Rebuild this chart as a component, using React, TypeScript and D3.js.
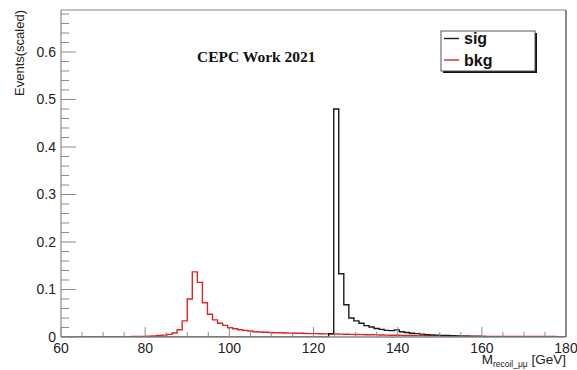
import React from "react";
import * as d3 from "d3";

const binLow = 60;
const binWidth = 1.2;
const xTicks = [60, 80, 100, 120, 140, 160, 180];
const yTicks = [0, 0.1, 0.2, 0.3, 0.4, 0.5, 0.6];

const bkgValues = [
  0, 0, 0, 0.0006, 0.0006, 0.0005, 0.0005, 0.0005, 0.0006, 0.0006,
  0.0006, 0.0007, 0.0007, 0.0008, 0.0009, 0.001, 0.0012, 0.0015, 0.002, 0.003,
  0.004, 0.0055, 0.0084, 0.0154, 0.034, 0.08, 0.137, 0.115, 0.072, 0.048,
  0.036, 0.029, 0.0245, 0.0196, 0.0175, 0.0154, 0.014, 0.0126, 0.011, 0.0105,
  0.01, 0.0095, 0.009, 0.0088, 0.0085, 0.0082, 0.008, 0.0078, 0.0075, 0.0072,
  0.007, 0.0068, 0.0066, 0.0064, 0.0062, 0.006, 0.0058, 0.0055, 0.0052, 0.005,
  0.0048, 0.0046, 0.0044, 0.0042, 0.004, 0.0038, 0.0036, 0.0034, 0.0032, 0.003,
  0.0029, 0.0028, 0.0026, 0.0025, 0.0024, 0.0022, 0.0021, 0.002, 0.0019, 0.0018,
  0.0017, 0.0016, 0.0016, 0.0015, 0.0014, 0.0014, 0.0013, 0.0013, 0.0012, 0.0012,
  0.0011, 0.0011, 0.001, 0.001, 0.001, 0.0009, 0.0009, 0.0009, 0.0008, 0.0008,
];

const sigValues = [
  0, 0, 0, 0, 0, 0, 0, 0, 0, 0,
  0, 0, 0, 0, 0, 0, 0, 0, 0, 0,
  0, 0, 0, 0, 0, 0, 0, 0, 0, 0,
  0, 0, 0, 0, 0, 0, 0, 0, 0, 0,
  0, 0, 0, 0, 0, 0, 0, 0, 0, 0,
  0, 0, 0, 0.007, 0.48, 0.133, 0.068, 0.04, 0.034, 0.029,
  0.024, 0.021, 0.018, 0.016, 0.014, 0.0135, 0.015, 0.011, 0.0095, 0.008,
  0.007, 0.006, 0.005, 0.0045, 0.004, 0.0035, 0.003, 0.0025, 0.002, 0.0018,
  0.0015, 0.0012, 0.001, 0.0008, 0.0006, 0.0005, 0.0004, 0.0003, 0.0003, 0.0002,
  0.0002, 0.0001, 0.0001, 0.0001, 0, 0, 0, 0, 0, 0,
];

const W = 577;
const H = 370;
const L = 61;
const R = 566;
const T = 10;
const B = 337;

export default function App() {
  const x = d3.scaleLinear().domain([60, 180]).range([L, R]);
  const y = d3.scaleLinear().domain([0, 0.6884]).range([B, T]);

  const histPath = (vals: number[]) => {
    const p = d3.path();
    p.moveTo(x(binLow), y(0));
    vals.forEach((v, i) => {
      const lo = binLow + i * binWidth;
      const hi = lo + binWidth;
      p.lineTo(x(lo), y(v));
      p.lineTo(x(hi), y(v));
    });
    p.lineTo(x(binLow + vals.length * binWidth), y(0));
    return p.toString();
  };

  const xMinor = d3.range(60, 180.01, 5).filter((v) => !xTicks.includes(v));
  const yMinor = d3.range(0, 0.689, 0.02).filter(
    (v) => !yTicks.some((t) => Math.abs(t - v) < 1e-6)
  );

  const axisColor = "#8a8a8a";
  const font = "'Liberation Sans', Arial, Helvetica, sans-serif";

  return (
    <svg
      width={W}
      height={H}
      style={{ position: "absolute", left: 0, top: 0, background: "#fff" }}
      fontFamily={font}
    >
      <rect x={0} y={0} width={W} height={H} fill="#fff" />
      <defs>
        <clipPath id="frame">
          <rect x={L} y={T} width={R - L} height={B - T} />
        </clipPath>
      </defs>

      <g clipPath="url(#frame)">
        <path d={histPath(bkgValues)} fill="none" stroke="#e02424" strokeWidth={1.4} />
        <path d={histPath(sigValues)} fill="none" stroke="#1a1a1a" strokeWidth={1.4} />
      </g>

      {/* frame */}
      <line x1={L} y1={T} x2={R} y2={T} stroke={axisColor} strokeWidth={1.2} />
      <line x1={R} y1={T} x2={R} y2={B} stroke={axisColor} strokeWidth={2} />
      <line x1={L} y1={T} x2={L} y2={B} stroke={axisColor} strokeWidth={1.2} />
      <line x1={L} y1={B} x2={R} y2={B} stroke={axisColor} strokeWidth={1.4} />

      {/* x ticks */}
      {xTicks.map((t) => (
        <line key={"xt" + t} x1={x(t)} x2={x(t)} y1={B} y2={B - 10} stroke={axisColor} strokeWidth={1} />
      ))}
      {xMinor.map((t) => (
        <line key={"xm" + t} x1={x(t)} x2={x(t)} y1={B} y2={B - 5} stroke={axisColor} strokeWidth={1} />
      ))}
      {xTicks.map((t) => (
        <text key={"xl" + t} x={x(t)} y={353} fontSize={14} textAnchor="middle" fill="#222">
          {t}
        </text>
      ))}

      {/* y ticks */}
      {yTicks.map((t) => (
        <line key={"yt" + t} x1={L} x2={L + 15} y1={y(t)} y2={y(t)} stroke={axisColor} strokeWidth={1} />
      ))}
      {yMinor.map((t) => (
        <line key={"ym" + t} x1={L} x2={L + 8} y1={y(t)} y2={y(t)} stroke={axisColor} strokeWidth={1} />
      ))}
      {yTicks.map((t) => (
        <text key={"yl" + t} x={56} y={y(t) + 5} fontSize={14} textAnchor="end" fill="#222">
          {t === 0 ? "0" : t.toFixed(1)}
        </text>
      ))}

      {/* axis titles */}
      <text
        transform={`translate(24, ${T}) rotate(-90)`}
        fontSize={13}
        textAnchor="end"
        fill="#222"
      >
        Events(scaled)
      </text>
      <text x={R} y={364} fontSize={13.5} textAnchor="end" fill="#222">
        M<tspan fontSize={8.5} dy={2.5}>recoil_μμ</tspan>
        <tspan dy={-2.5}> [GeV]</tspan>
      </text>

      {/* label */}
      <text
        x={197}
        y={62}
        fontSize={15.5}
        fontWeight="bold"
        fontFamily="'Liberation Serif', 'Times New Roman', serif"
        fill="#111"
      >
        CEPC Work 2021
      </text>

      {/* legend */}
      <rect x={443} y={33} width={94} height={40} fill="#111" />
      <rect x={441} y={31} width={94} height={40} fill="#fff" stroke="#555" strokeWidth={1} />
      <line x1={444} x2={459} y1={38.5} y2={38.5} stroke="#1a1a1a" strokeWidth={1.4} />
      <line x1={444} x2={459} y1={60} y2={60} stroke="#e02424" strokeWidth={1.4} />
      <text x={464} y={44} fontSize={16} fontWeight="bold" fill="#111">
        sig
      </text>
      <text x={464} y={66} fontSize={16} fontWeight="bold" fill="#111">
        bkg
      </text>
    </svg>
  );
}
